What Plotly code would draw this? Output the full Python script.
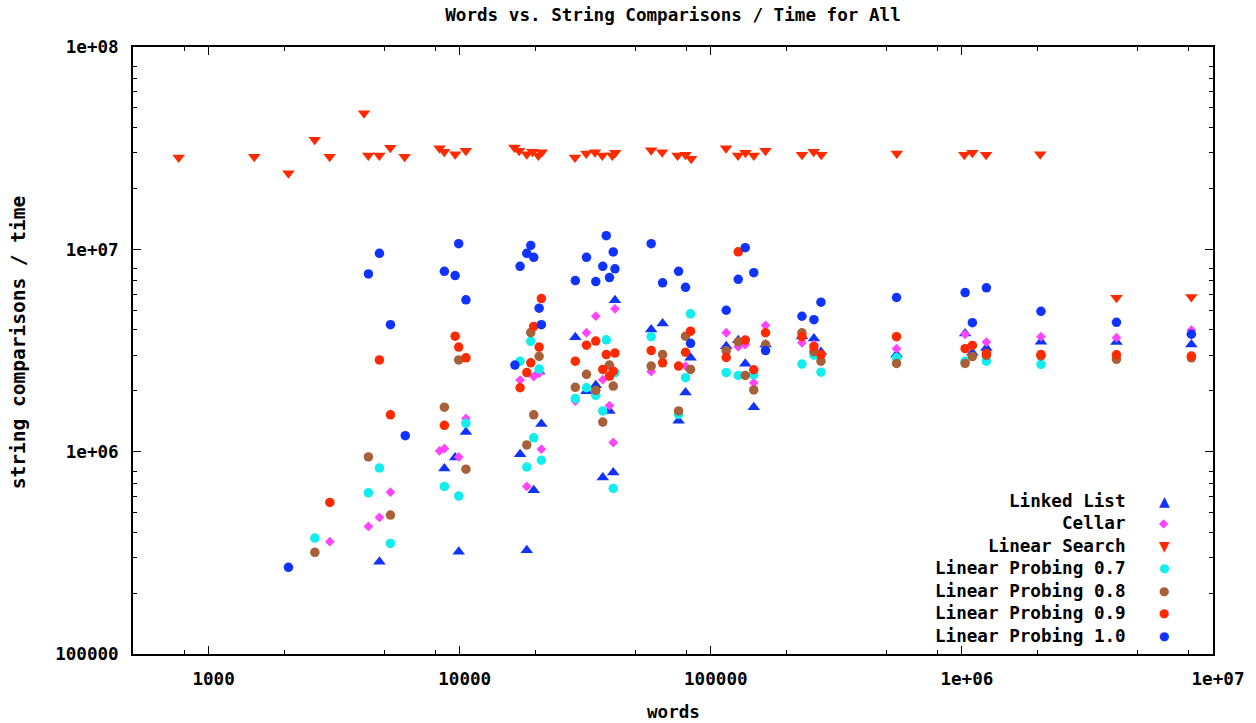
import plotly.graph_objects as go

# ---------------- data ----------------
ll_words = [4790, 8690, 9590, 9910, 10590, 17400, 18500, 19720, 20720, 21150, 28870, 31990, 34830,
            37140, 39480, 40880, 41530, 57890, 64270, 74420, 79330, 83050, 115200, 128600, 137200,
            148300, 165200, 230700, 257500, 274600, 549200, 1030000, 1101000, 1252000, 2065000,
            4127000, 8200000]
ll_cmp = [2.86e5, 8.25e5, 9.35e5, 3.20e5, 1.25e6, 9.71e5, 3.26e5, 6.45e5, 2.49e6, 1.37e6, 3.68e6,
          1.99e6, 2.13e6, 7.45e5, 1.59e6, 7.89e5, 5.60e6, 4.02e6, 4.30e6, 1.42e6, 1.96e6, 2.91e6,
          3.32e6, 3.55e6, 2.72e6, 1.66e6, 3.39e6, 3.72e6, 3.63e6, 3.11e6, 3.02e6, 3.84e6, 3.08e6,
          3.25e6, 3.49e6, 3.48e6, 3.39e6]

cellar_words = [3040, 4330, 4790, 5300, 8310, 8690, 9910, 10590, 17400, 18500, 19720, 20720, 21150,
                28870, 31990, 34830, 37140, 39480, 40880, 41530, 57890, 79330, 115200, 128600,
                137200, 148300, 165200, 230700, 257500, 549200, 1030000, 1252000, 2065000, 4127000,
                8200000]
cellar_cmp = [3.59e5, 4.27e5, 4.73e5, 6.31e5, 1.008e6, 1.036e6, 9.42e5, 1.46e6, 2.26e6, 6.73e5,
              2.35e6, 2.44e6, 1.028e6, 1.78e6, 3.87e6, 4.67e6, 2.27e6, 1.69e6, 1.11e6, 5.08e6,
              2.49e6, 2.65e6, 3.87e6, 3.30e6, 3.38e6, 2.19e6, 4.21e6, 3.45e6, 3.39e6, 3.23e6,
              3.80e6, 3.48e6, 3.70e6, 3.66e6, 3.99e6]

ls_words = [760, 1520, 2080, 2646, 3036, 4159, 4325, 4786, 5293, 6034, 8313, 8678, 9594, 10585,
            16515, 17244, 18504, 19478, 20576, 21227, 28790, 31930, 34580, 36970, 40520, 41640,
            57890, 64040, 73740, 79330, 83500, 115000, 128400, 137400, 148300, 165100, 230700,
            256800, 275400, 550600, 1023000, 1101000, 1248000, 2051000, 4127000, 8200000]
ls_cmp = [2.84e7, 2.87e7, 2.38e7, 3.48e7, 2.87e7, 4.71e7, 2.91e7, 2.91e7, 3.18e7, 2.87e7, 3.16e7,
          3.04e7, 2.95e7, 3.07e7, 3.19e7, 3.07e7, 2.95e7, 3.04e7, 2.91e7, 3.02e7, 2.84e7, 2.98e7,
          3.02e7, 2.91e7, 2.91e7, 3.00e7, 3.09e7, 3.02e7, 2.91e7, 2.93e7, 2.80e7, 3.16e7, 2.91e7,
          3.00e7, 2.91e7, 3.07e7, 2.93e7, 3.04e7, 2.93e7, 2.98e7, 2.93e7, 3.00e7, 2.93e7, 2.95e7,
          5.76e6, 5.82e6]

lp07_words = [2650, 4330, 4790, 5300, 8690, 9910, 10590, 17400, 18500, 19190, 19720, 20720, 21150,
              28870, 31990, 34830, 37140, 38340, 40880, 41530, 57890, 74420, 79330, 83050, 115200,
              128600, 148300, 230700, 257500, 274600, 549200, 1030000, 1252000, 2065000]
lp07_cmp = [3.74e5, 6.26e5, 8.31e5, 3.52e5, 6.73e5, 6.03e5, 1.38e6, 2.80e6, 8.40e5, 3.51e6, 1.17e6,
            2.56e6, 9.07e5, 1.83e6, 2.07e6, 1.90e6, 1.59e6, 3.57e6, 6.58e5, 2.46e6, 3.70e6, 1.53e6,
            2.32e6, 4.80e6, 2.46e6, 2.38e6, 2.40e6, 2.71e6, 3.00e6, 2.47e6, 2.91e6, 2.80e6, 2.80e6,
            2.70e6]

lp08_words = [2650, 4330, 5300, 8690, 9910, 10590, 18500, 19190, 19720, 20720, 28870, 31990, 34830,
              37140, 39480, 40880, 57890, 64270, 74420, 79330, 83050, 115200, 128600, 137200,
              148300, 165200, 230700, 257500, 274600, 549200, 1030000, 1101000, 1252000, 2065000,
              4127000, 8200000]
lp08_cmp = [3.18e5, 9.42e5, 4.86e5, 1.66e6, 2.84e6, 8.19e5, 1.08e6, 3.88e6, 1.52e6, 2.96e6, 2.08e6,
            2.41e6, 2.01e6, 1.40e6, 2.68e6, 2.11e6, 2.65e6, 3.02e6, 1.59e6, 3.72e6, 2.55e6, 3.15e6,
            3.49e6, 2.38e6, 2.02e6, 3.38e6, 3.87e6, 3.12e6, 2.80e6, 2.73e6, 2.73e6, 2.95e6, 2.99e6,
            2.97e6, 2.86e6, 2.91e6]

lp09_words = [3040, 4790, 5300, 8690, 9590, 9910, 10590, 17400, 18500, 19190, 19720, 20720, 21150,
              28870, 31990, 34830, 37140, 38340, 39480, 40880, 41530, 57890, 64270, 74420, 79330,
              83050, 115200, 128600, 137200, 148300, 165200, 230700, 257500, 274600, 549200,
              1030000, 1101000, 1252000, 2065000, 4127000, 8200000]
lp09_cmp = [5.61e5, 2.84e6, 1.52e6, 1.35e6, 3.72e6, 3.29e6, 2.91e6, 2.07e6, 2.46e6, 2.75e6, 4.16e6,
            3.29e6, 5.71e6, 2.80e6, 3.36e6, 3.52e6, 2.55e6, 3.02e6, 2.36e6, 2.50e6, 3.07e6, 3.16e6,
            2.75e6, 2.65e6, 3.10e6, 3.94e6, 2.92e6, 9.72e6, 3.56e6, 2.54e6, 3.87e6, 3.70e6, 3.30e6,
            3.02e6, 3.70e6, 3.23e6, 3.35e6, 3.06e6, 3.02e6, 3.01e6, 2.97e6]

lp10_words = [2080, 4330, 4790, 5300, 6070, 8690, 9590, 9910, 10590, 16590, 17400, 18500, 19190,
              19720, 20720, 21150, 28870, 31990, 34830, 37140, 38340, 39480, 40880, 41530, 57890,
              64270, 74420, 79330, 83050, 115200, 128600, 137200, 148300, 165200, 230700, 257500,
              274600, 549200, 1030000, 1101000, 1252000, 2065000, 4127000, 8200000]
lp10_cmp = [2.68e5, 7.56e6, 9.56e6, 4.24e6, 1.20e6, 7.79e6, 7.42e6, 1.067e7, 5.63e6, 2.68e6, 8.24e6,
            9.56e6, 1.046e7, 9.13e6, 5.12e6, 4.24e6, 7.01e6, 9.13e6, 6.93e6, 8.24e6, 1.168e7,
            7.25e6, 9.71e6, 8.01e6, 1.067e7, 6.83e6, 7.79e6, 6.49e6, 3.43e6, 5.00e6, 7.11e6,
            1.019e7, 7.67e6, 3.16e6, 4.67e6, 4.49e6, 5.48e6, 5.78e6, 6.11e6, 4.34e6, 6.45e6,
            4.94e6, 4.36e6, 3.81e6]

series_names = ["Linked List", "Cellar", "Linear Search", "Linear Probing 0.7",
                "Linear Probing 0.8", "Linear Probing 0.9", "Linear Probing 1.0"]

x_tick_vals = [1000, 10000, 100000, 1000000, 10000000]
x_tick_text = ["1000", "10000", "100000", "1e+06", "1e+07"]
y_tick_vals = [100000, 1000000, 10000000, 100000000]
y_tick_text = ["100000", "1e+06", "1e+07", "1e+08"]

# ---------------- styling ----------------
FONT = "DejaVu Sans Mono"
FS = 17.6
styles = [
    dict(symbol="triangle-up", color="#1133ff", size=11, glyph="\u25B2", gsize=14),
    dict(symbol="diamond", color="#ff44ff", size=7.5, glyph="\u25C6", gsize=12),
    dict(symbol="triangle-down", color="#ff2a00", size=11, glyph="\u25BC", gsize=14),
    dict(symbol="circle", color="#11eeee", size=9.5, glyph="\u25CF", gsize=12),
    dict(symbol="circle", color="#a8603a", size=9.5, glyph="\u25CF", gsize=12),
    dict(symbol="circle", color="#ff2a00", size=9.5, glyph="\u25CF", gsize=12),
    dict(symbol="circle", color="#1133ff", size=9.5, glyph="\u25CF", gsize=12),
]
data = [(ll_words, ll_cmp), (cellar_words, cellar_cmp), (ls_words, ls_cmp),
        (lp07_words, lp07_cmp), (lp08_words, lp08_cmp), (lp09_words, lp09_cmp),
        (lp10_words, lp10_cmp)]

fig = go.Figure()
for name, (xs, ys), st in zip(series_names, data, styles):
    fig.add_trace(go.Scatter(
        x=xs, y=ys, mode="markers", name=name, showlegend=False,
        marker=dict(symbol=st["symbol"], color=st["color"], size=st["size"], line=dict(width=0)),
    ))

# gnuplot-like legend: right-aligned text, key on the right
row_top, row_step = 0.2521, 0.0370
for i, (name, st) in enumerate(zip(series_names, styles)):
    yy = row_top - i * row_step
    fig.add_annotation(xref="paper", yref="paper", x=0.9215, y=yy, xanchor="right",
                       yanchor="middle", text=name, showarrow=False,
                       font=dict(family=FONT, size=FS, color="black", weight="bold"))
    fig.add_annotation(xref="paper", yref="paper", x=0.9547, y=yy, xanchor="center",
                       yanchor="middle", text=st["glyph"], showarrow=False,
                       font=dict(family="DejaVu Sans", size=st["gsize"], color=st["color"]))

# axis titles
fig.add_annotation(xref="paper", yref="paper", x=0.5, y=-0.0956, xanchor="center",
                   yanchor="middle", text="words", showarrow=False,
                   font=dict(family=FONT, size=FS, color="black", weight="bold"))
fig.add_annotation(xref="paper", yref="paper", x=-0.1063, y=0.514, xanchor="center",
                   yanchor="middle", text="string comparisons / time", textangle=-90,
                   showarrow=False, font=dict(family=FONT, size=19.5, color="black", weight="bold"))

x_minor = [800] + [m * 10 ** e for e in range(3, 7) for m in (2, 5, 8)]
y_minor = [m * 10 ** e for e in range(5, 8) for m in (2, 3, 4, 5, 6, 7, 8)]

axis_common = dict(
    showgrid=False, zeroline=False, showline=True, linecolor="black", linewidth=1.5,
    mirror="allticks", ticks="inside", ticklen=8, tickwidth=1.2, tickcolor="black",
    tickfont=dict(family=FONT, size=FS, color="black", weight="bold"),
)

fig.update_xaxes(type="log", range=[2.69897, 7], tickmode="array", tickvals=x_tick_vals,
                 ticktext=x_tick_text, ticklabelstandoff=8, ticklabelshift=5,
                 minor=dict(tickmode="array", tickvals=x_minor, ticks="inside", ticklen=4,
                            tickwidth=1.2, tickcolor="black", showgrid=False),
                 **axis_common)
fig.update_yaxes(type="log", range=[5, 8], tickmode="array", tickvals=y_tick_vals,
                 ticktext=y_tick_text, ticklabelstandoff=9,
                 minor=dict(tickmode="array", tickvals=y_minor, ticks="inside", ticklen=4,
                            tickwidth=1.2, tickcolor="black", showgrid=False),
                 **axis_common)

fig.update_layout(
    width=1256, height=723,
    margin=dict(l=133, r=41, t=47, b=69),
    paper_bgcolor="white", plot_bgcolor="white",
    title=dict(text="Words vs. String Comparisons / Time for All", xref="paper", x=0.5,
               xanchor="center", yref="container", y=1 - 15 / 723, yanchor="middle",
               font=dict(family=FONT, size=FS, color="black", weight="bold")),
    showlegend=False,
)

fig.write_html("out.html")
